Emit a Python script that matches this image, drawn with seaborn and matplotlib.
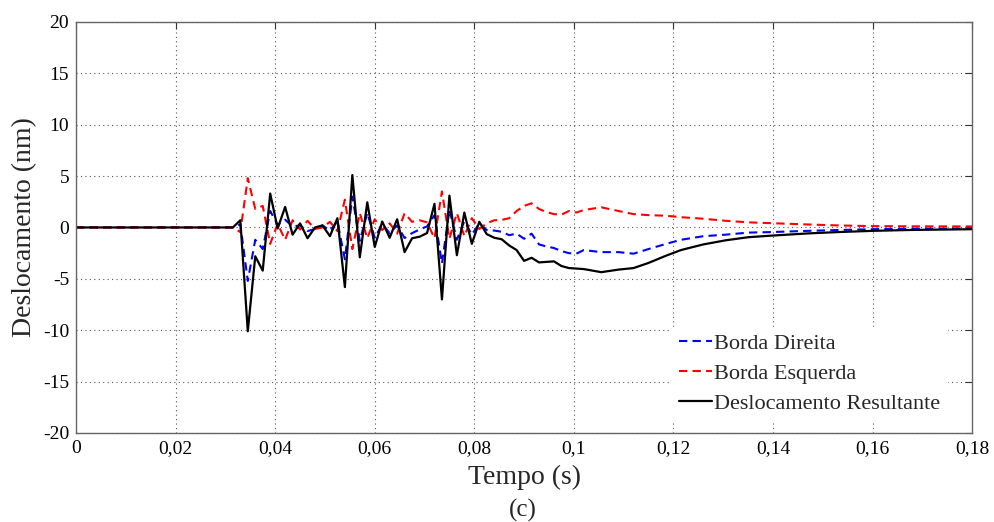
import matplotlib
matplotlib.use("Agg")
import matplotlib.pyplot as plt
import seaborn as sns
import pandas as pd
from matplotlib.ticker import FuncFormatter

tempo = [0.0, 0.0315,
         0.033, 0.0345, 0.036, 0.0375, 0.039, 0.0405, 0.042, 0.0435, 0.045, 0.0465,
         0.048, 0.0495, 0.051, 0.0525, 0.054, 0.0555, 0.057, 0.0585, 0.06, 0.0615,
         0.063, 0.0645, 0.066, 0.0675, 0.069, 0.0705, 0.072, 0.0735, 0.075, 0.0765,
         0.078, 0.0795, 0.081, 0.0825, 0.084, 0.0855, 0.087, 0.0885, 0.09, 0.0915,
         0.093, 0.0945, 0.096, 0.0975, 0.099, 0.1005, 0.102,
         0.1055, 0.109, 0.112, 0.115, 0.1185, 0.1215, 0.126, 0.1305, 0.135, 0.1395,
         0.147, 0.153, 0.16, 0.168, 0.18]

borda_direita = [0, 0, 0.3, -5.2, -1.2, -2.1, 1.6, 0.25, 0.75, 0.1,
                 0.2, -0.35, -0.15, 0.2, -0.3, 0.58, -3.1, 3.0, -1.3, 1.4,
                 -1.0, 0.32, -0.55, 0.2, -1.03, -0.55, -0.2, 0.1, 1.2, -3.5,
                 1.7, -1.2, 0.6, -0.7, 0.4, -0.25, -0.3, -0.42, -0.75, -0.6,
                 -1.1, -0.6, -1.65, -1.85, -2.0, -2.3, -2.5, -2.55, -2.2,
                 -2.4, -2.4, -2.55, -2.1, -1.6, -1.2, -0.85, -0.7, -0.5, -0.45,
                 -0.33, -0.25, -0.17, -0.12, -0.1]

borda_esquerda = [0, 0, -0.45, 4.8, 1.8, 2.1, -1.6, 0.35, -1.2, 0.7,
                  -0.2, 0.65, -0.15, 0.0, 0.55, -0.35, 2.7, -2.1, 1.4, -1.05,
                  0.8, -0.25, 0.4, -0.6, 1.38, 0.55, 0.7, 0.5, -1.05, 3.5,
                  -1.1, 1.4, -0.85, 0.9, -0.15, 0.4, 0.7, 0.73, 0.9, 1.6,
                  2.1, 2.35, 1.8, 1.5, 1.3, 1.25, 1.6, 1.45, 1.7,
                  1.96, 1.6, 1.3, 1.2, 1.14, 1.0, 0.85, 0.65, 0.5, 0.42,
                  0.29, 0.2, 0.13, 0.11, 0.1]

resultante = [0, 0, 0.7, -10.1, -2.8, -4.2, 3.3, -0.1, 2.0, -0.7,
              0.4, -1.05, 0.0, 0.2, -0.85, 0.9, -5.8, 5.1, -2.9, 2.45,
              -1.9, 0.58, -1.0, 0.8, -2.4, -1.05, -0.9, -0.55, 2.3, -7.0,
              3.1, -2.7, 1.45, -1.6, 0.55, -0.65, -1.0, -1.15, -1.75, -2.2,
              -3.25, -2.95, -3.4, -3.35, -3.3, -3.75, -3.95, -4.0, -4.05,
              -4.35, -4.1, -3.95, -3.45, -2.75, -2.2, -1.65, -1.25, -0.95, -0.8,
              -0.58, -0.45, -0.33, -0.24, -0.17]

series_labels = ["Borda Direita", "Borda Esquerda", "Deslocamento Resultante"]
x_ticks = [0, 0.02, 0.04, 0.06, 0.08, 0.1, 0.12, 0.14, 0.16, 0.18]
y_ticks = [-20, -15, -10, -5, 0, 5, 10, 15, 20]

df = pd.DataFrame({"t": tempo, "bd": borda_direita, "be": borda_esquerda, "res": resultante})

sns.set_theme(style="white")
plt.rcParams["font.family"] = ["Liberation Serif", "DejaVu Serif"]
plt.rcParams["axes.unicode_minus"] = False

fig = plt.figure(figsize=(9.94, 5.22), dpi=100)
ax = fig.add_axes([0.0765, 0.1705, 0.9015, 0.7875])

sns.lineplot(data=df, x="t", y="bd", ax=ax, color="#0000ff", linestyle=(0, (4, 2.5)),
             linewidth=1.5, label=series_labels[0], sort=False, estimator=None)
sns.lineplot(data=df, x="t", y="be", ax=ax, color="#ff0000", linestyle=(0, (4, 2.5)),
             linewidth=1.5, label=series_labels[1], sort=False, estimator=None)
sns.lineplot(data=df, x="t", y="res", ax=ax, color="black", linestyle="-",
             linewidth=1.6, label=series_labels[2], sort=False, estimator=None)

ax.set_xlim(0, 0.18)
ax.set_ylim(-20, 20)
ax.set_xticks(x_ticks)
ax.set_yticks(y_ticks)

def fmt(v, pos):
    s = ("%.2f" % v).rstrip("0").rstrip(".")
    return s.replace(".", ",")

ax.xaxis.set_major_formatter(FuncFormatter(fmt))
ax.grid(True, linestyle=(0, (1, 3)), color="#555555", linewidth=0.8)
ax.tick_params(direction="in", length=5, width=0.8, top=True, right=True,
               labelsize=14, colors="#333333", labelcolor="black", pad=5)
for sp in ax.spines.values():
    sp.set_color("#666666")
    sp.set_linewidth(1.0)

ax.set_xlabel("Tempo (s)", fontsize=20, labelpad=6)
ax.set_ylabel("Deslocamento (nm)", fontsize=20, labelpad=4)

leg = ax.legend(loc="lower right", bbox_to_anchor=(0.972, 0.03), borderaxespad=0,
                fontsize=16, frameon=True, facecolor="white", edgecolor="white",
                framealpha=1, fancybox=False, handlelength=1.5, handletextpad=0.1,
                labelspacing=0.42, borderpad=0.3)

fig.text(0.526, 0.022, "(c)", ha="center", va="center", fontsize=18)

fig.savefig("out.png", dpi=100)
